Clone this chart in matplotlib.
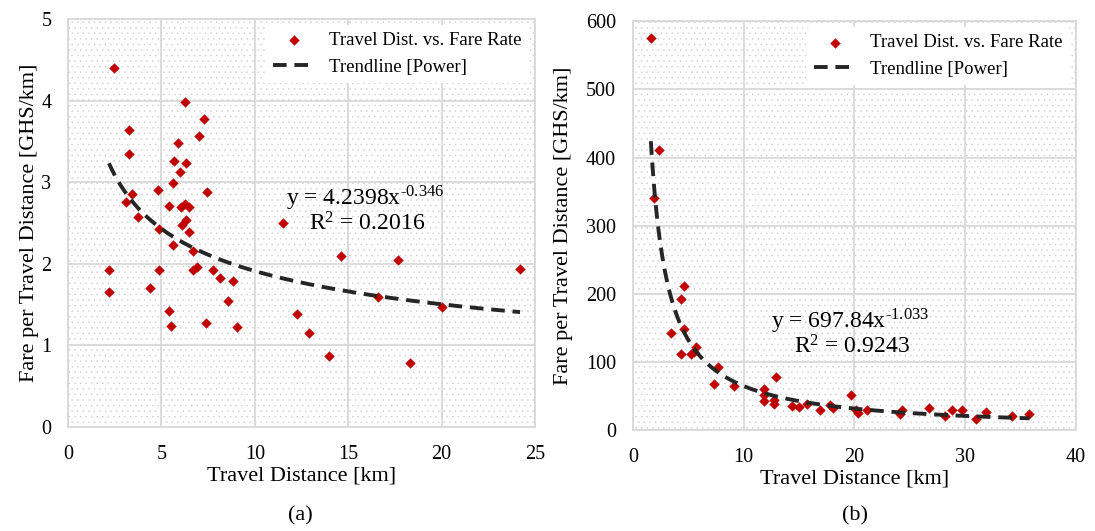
import numpy as np
import matplotlib
matplotlib.use("Agg")
import matplotlib.pyplot as plt
from matplotlib.patches import Rectangle

plt.rcParams['font.family'] = ['Liberation Serif', 'DejaVu Serif']
plt.rcParams['mathtext.fontset'] = 'stix'
plt.rcParams['hatch.linewidth'] = 0.3

# (a) travel distance [km] vs fare per km [GHS/km]
dist_a = [2.45, 6.24, 7.27, 7.0, 3.29, 5.88, 3.29, 5.70, 6.33, 6.0, 5.61, 4.81, 7.45,
          3.43, 3.11, 5.40, 6.06, 6.24, 6.5, 3.77, 6.33, 6.09, 4.86, 6.47, 5.61, 6.68,
          11.5, 14.59, 17.66, 24.2, 2.19, 4.86, 6.68, 6.9, 7.75, 8.16, 8.84, 2.19,
          4.38, 8.59, 16.6, 20.0, 5.43, 5.52, 7.41, 9.04, 12.28, 12.9, 13.96, 18.3]
rate_a = [4.40, 3.98, 3.77, 3.57, 3.64, 3.48, 3.35, 3.26, 3.24, 3.12, 2.99, 2.90, 2.88,
          2.86, 2.76, 2.71, 2.70, 2.73, 2.70, 2.57, 2.54, 2.48, 2.43, 2.39, 2.23, 2.16,
          2.50, 2.09, 2.05, 1.94, 1.92, 1.92, 1.92, 1.96, 1.92, 1.83, 1.79, 1.65,
          1.70, 1.54, 1.59, 1.47, 1.42, 1.24, 1.27, 1.23, 1.38, 1.15, 0.87, 0.78]

# (b) fare per km [GHS/km]
dist_b = [1.62, 2.35, 1.93, 4.63, 4.33, 4.63, 3.40, 4.33, 5.23, 5.69, 5.5, 7.64, 7.31,
          9.12, 12.88, 11.82, 11.82, 11.82, 12.7, 12.7, 14.4, 15.0, 15.7, 16.9, 17.8,
          18.1, 19.65, 20.1, 20.3, 21.1, 24.3, 24.1, 26.7, 28.2, 28.8, 29.7, 31.0,
          31.9, 34.2, 35.8]
rate_b = [576, 411, 341, 211, 192, 149, 143, 112, 111, 122, 114, 92, 67,
          65, 78, 60, 52, 42, 44, 38, 36, 34, 39, 29, 37,
          32, 51, 29, 25, 29, 29, 24, 32, 20, 29, 29, 16,
          27, 20, 24]

# power trendlines as printed on the chart
fit_a = (4.2398, -0.346, "0.2016")
fit_b = (697.84, -1.033, "0.9243")

red = '#c00000'
grid = '#d9d9d9'


def panel(ax, x, y, fit, xlim, ylim, xt, yt, eq_xy, eq_txt, ylab_x):
    ax.set_xlim(*xlim)
    ax.set_ylim(*ylim)
    # dotted background fill
    ax.add_patch(Rectangle((0, 0), 1, 1, transform=ax.transAxes, facecolor='white',
                           edgecolor='#cccccc', linewidth=0, hatch='...', zorder=0))
    ax.set_xticks(xt)
    ax.set_yticks(yt)
    ax.grid(True, color=grid, lw=1.3, zorder=1)
    ax.set_axisbelow(True)
    for s in ax.spines.values():
        s.set_color(grid)
        s.set_linewidth(1.3)
    ax.tick_params(length=0, labelsize=14.5)
    ax.tick_params(axis='y', pad=12)
    ax.tick_params(axis='x', pad=13)
    a, b, r2 = fit
    xs = np.linspace(min(x), max(x), 300)
    ax.scatter(x, y, marker='D', s=28, color=red, zorder=3,
               label='Travel Dist. vs. Fare Rate', linewidths=0)
    ax.plot(xs, a * xs ** b, color='#262626', lw=2.8, dashes=(3.5, 2), zorder=4,
            label='Trendline [Power]')
    ax.text(eq_xy[0], eq_xy[1], eq_txt, fontsize=17, ha='center', va='center', zorder=5)
    ax.text(eq_xy[0] + (xlim[1] - xlim[0]) * 0.005, eq_xy[1] - (ylim[1] - ylim[0]) * 0.063,
            '$\\mathregular{R^2}$ = ' + r2, fontsize=17, ha='center', va='center', zorder=5)
    leg = ax.legend(loc='upper right', fontsize=13.5, frameon=True, framealpha=1,
                    edgecolor='none', borderpad=0.4, handlelength=2.2,
                    borderaxespad=0.3)
    leg.get_frame().set_facecolor('white')
    leg.set_zorder(6)
    ax.set_xlabel('Travel Distance [km]', fontsize=16, labelpad=2)
    ax.set_ylabel('Fare per Travel Distance [GHS/km]', fontsize=16)
    ax.yaxis.set_label_coords(ylab_x, 0.5)


fig = plt.figure(figsize=(10.95, 5.31), dpi=100)
ax1 = fig.add_axes([0.0621, 0.196, 0.4265, 0.768])
ax2 = fig.add_axes([0.578, 0.190, 0.4046, 0.770])

panel(ax1, dist_a, rate_a, fit_a, (0, 25), (0, 5), range(0, 26, 5), range(0, 6),
      (15.9, 2.8), 'y = 4.2398x$^{\\mathregular{\u2010}\\mathregular{0.346}}$', -0.062)
panel(ax2, dist_b, rate_b, fit_b, (0, 40), (0, 600), range(0, 41, 10), range(0, 601, 100),
      (19.6, 160), 'y = 697.84x$^{\\mathregular{\u2010}\\mathregular{1.033}}$', -0.135)

fig.text(0.274, 0.02, '(a)', fontsize=16, ha='center')
fig.text(0.781, 0.02, '(b)', fontsize=16, ha='center')

fig.savefig('out.png', dpi=100)
